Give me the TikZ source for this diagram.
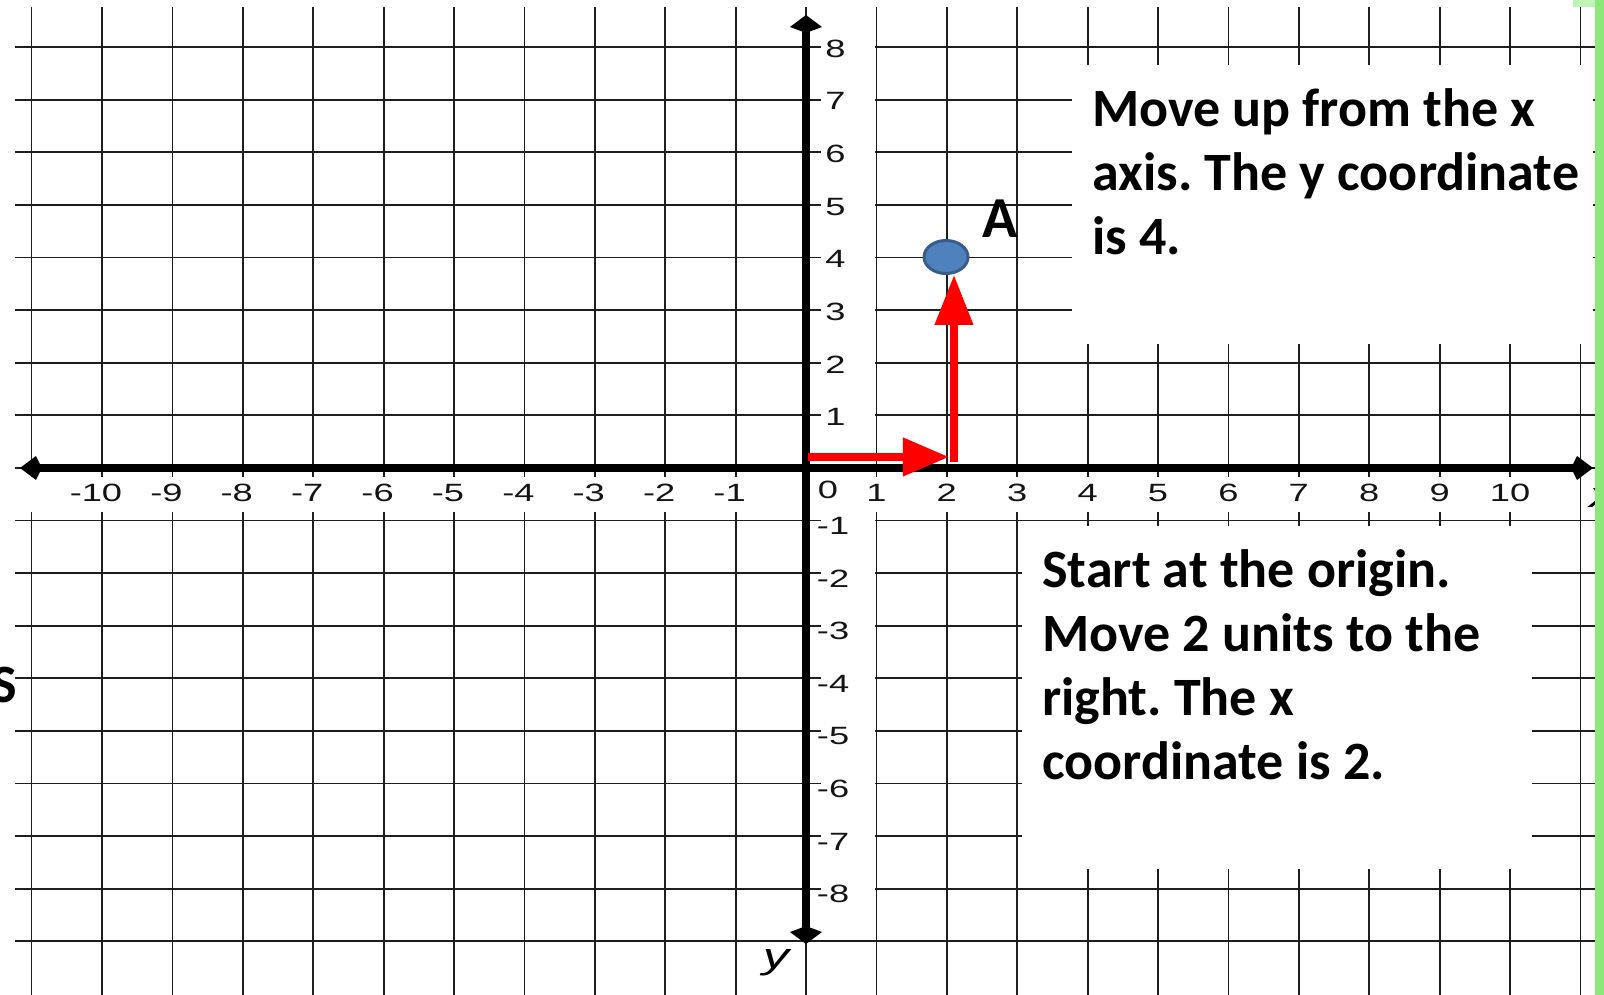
\documentclass[tikz,border=0pt]{standalone}
\usepackage{fontspec}
\setmainfont{Carlito}
\newfontfamily\axisfont[FakeStretch=1.45]{Liberation Sans}
\usepackage{tikz}
\usetikzlibrary{arrows.meta,shapes.geometric}
\definecolor{gridgray}{RGB}{30,30,30}
\definecolor{ptfill}{RGB}{79,129,189}
\definecolor{ptdraw}{RGB}{56,93,138}
\definecolor{edgegreen}{RGB}{140,232,120}
\definecolor{edgelight}{RGB}{190,245,180}
\frenchspacing

\begin{document}
\begin{tikzpicture}[x=35.2pt,y=26.3pt,
  gridline/.style={draw=gridgray,line width=0.9pt},
  blank/.style={fill=white},
  axisline/.style={line width=4pt},
  ticklbl/.style={font=\axisfont\fontsize{12.5}{14}\selectfont,text=black!92,inner sep=0pt},
  varlbl/.style={font=\axisfont\itshape\fontsize{18}{20}\selectfont,inner sep=0pt},
  hint/.style={font=\bfseries\fontsize{27}{32}\selectfont,align=left,inner sep=0pt,anchor=north west},
  move/.style={red,line width=3.8pt},
  dot/.style={ellipse,fill=ptfill,draw=ptdraw,line width=1.5pt,minimum width=22pt,minimum height=16.5pt,inner sep=0pt}]

  \useasboundingbox (-11.449,-10.019) rectangle (11.335,8.897);
  \fill[white] (-11.449,-10.019) rectangle (11.335,8.897);

  % grid
  \draw[gridline,xstep=1,ystep=50] (-11,-10.1) grid (11,8.76);
  \draw[gridline,xstep=50,ystep=1] (-11.236,-9.98) grid (11.207,8.76);

  % cleared areas
  \fill[blank] (-11.3,-0.171) rectangle (10.9,-0.837);
  \fill[blank] (0.213,8.9) rectangle (0.98,-8.59);
  \fill[blank] (3.778,7.662) rectangle (11.179,2.357);
  \fill[blank] (3.068,-1.103) rectangle (10.313,-7.624);

  % axes
  \coordinate (xl) at (-11.165,0);
  \coordinate (xr) at (11.179,0);
  \coordinate (yt) at (0,8.612);
  \coordinate (yb) at (0,-9.05);
  \draw[axisline,{Kite[length=11pt,width=12pt,inset=3pt]}-{Kite[length=11pt,width=12pt,inset=3pt]}] (xl) -- (xr);
  \draw[axisline,{Kite[length=9pt,width=16pt,inset=3pt]}-{Kite[length=9pt,width=16pt,inset=3pt]}] (yb) -- (yt);

  % tick labels
  \foreach \k in {1,...,10} \node[ticklbl] (xp\k) at (\k,-0.475) {\k};
  \foreach \k in {1,...,10} \node[ticklbl] (xn\k) at (-\k,-0.475) {\llap{-}\k};
  \node[ticklbl] (x0) at (0.31,-0.42) {0};
  \foreach \k in {1,...,8} \node[ticklbl,anchor=west] (yp\k) at (0.27,\k-0.03) {\k};
  \foreach \k in {1,...,8} \node[ticklbl,anchor=west] (yn\k) at (0.15,-\k-0.1) {-\k};
  \node[varlbl] (ylbl) at (-0.426,-9.41) {y};
  \node[varlbl,anchor=base west] (xlbl) at (11.12,-0.76) {x};

  % point A and the moves
  \node[dot] (ptA) at (1.989,4.011) {};
  \node[font=\bfseries\fontsize{29}{34}\selectfont,inner sep=0pt] (lblA) at (2.756,4.734) {A};
  \coordinate (start) at (0.03,0.209);
  \coordinate (turn) at (2.03,0.209);
  \coordinate (rise) at (2.102,0.114);
  \draw[move,-{Triangle[length=23pt,width=18.5pt]}] (start) -- (turn);
  \draw[move,-{Triangle[length=25pt,width=18.5pt]}] (rise) -- (rise |- ptA.south);

  % hints
  \node[hint] (hintup) at (4.06,7.224) {Move up from the x\\axis. The y coordinate\\is 4.};
  \node[hint] (hintright) at (3.352,-1.54) {Start at the origin.\\Move 2 units to the\\right. The x\\coordinate is 2.};
  \node[font=\bfseries\fontsize{27}{32}\selectfont,anchor=base east,inner sep=0pt] (cutS) at (-11.207,-4.449) {S};

  % green edge
  \fill[edgegreen] (11.207,8.897) rectangle (11.335,-10.019);
  \fill[edgelight] (10.895,8.897) rectangle (11.207,8.764);
\end{tikzpicture}
\end{document}
